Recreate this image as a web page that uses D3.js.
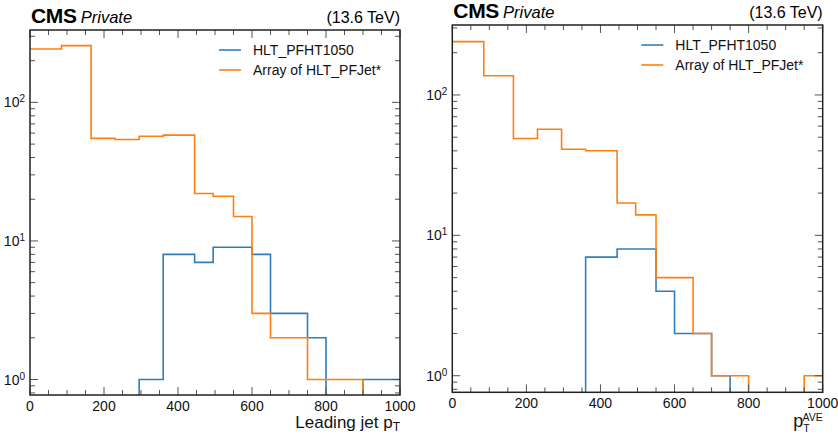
<!DOCTYPE html>
<html>
<head>
<meta charset="utf-8">
<script src="https://cdn.jsdelivr.net/npm/d3@7"></script>
<style>
  html, body { margin: 0; padding: 0; background: #fff; }
  svg { display: block; font-family: "Liberation Sans", Arial, Helvetica, sans-serif; }
</style>
</head>
<body>
<svg id="chart" width="838" height="439"></svg>
<script>
// ---- data ----
const binEdges = [0, 85, 165, 230, 295, 360, 445, 495, 550, 600, 650, 700, 750, 800, 850, 900, 950, 1000];
const seriesNames = ["HLT_PFHT1050", "Array of HLT_PFJet*"];
// Left panel: leading jet pT
const leadingPFHT1050 = [0, 0, 0, 0, 1, 8, 7, 9, 9, 8, 3, 3, 2, 0, 0, 1, 1];
const leadingPFJet    = [243, 257, 55, 54, 57, 58, 22, 21, 15, 3, 2, 2, 1, 1, 1, 0, 0];
// Right panel: pT AVE
const avePFHT1050 = [0, 0, 0, 0, 0, 7, 8, 8, 4, 2, 2, 1, 0, 0, 0, 0, 0];
const avePFJet    = [240, 137, 49, 57, 41, 40, 17, 14, 5, 5, 2, 1, 1, 0, 0, 0, 1];
const xTicks = [0, 200, 400, 600, 800, 1000];
const yTickExps = [0, 1, 2];

const colors = ["#2f7ebc", "#ff7f0e"];
const svg = d3.select("#chart");

const panels = [
  { x0: 30, x1: 400, y0: 30, y1: 395, yMin: 0.773, yMax: 333,
    series: [leadingPFHT1050, leadingPFJet], xlabel: "lead" },
  { x0: 452.3, x1: 822.7, y0: 25, y1: 392.3, yMin: 0.762, yMax: 315,
    series: [avePFHT1050, avePFJet], xlabel: "ave" }
];

panels.forEach((p, pi) => {
  const g = svg.append("g");
  const x = d3.scaleLinear().domain([0, 1000]).range([p.x0, p.x1]);
  const y = d3.scaleLog().domain([p.yMin, p.yMax]).range([p.y1, p.y0]);

  const clipId = "clip" + pi;
  svg.append("defs").append("clipPath").attr("id", clipId)
    .append("rect").attr("x", p.x0).attr("y", p.y0)
    .attr("width", p.x1 - p.x0).attr("height", p.y1 - p.y0);

  // histograms as steps
  const yv = v => v > 0 ? y(v) : p.y1 + 20;
  p.series.forEach((vals, si) => {
    const pts = [];
    vals.forEach((v, i) => {
      pts.push([x(binEdges[i]), yv(v)]);
      pts.push([x(binEdges[i + 1]), yv(v)]);
    });
    g.append("path")
      .attr("clip-path", `url(#${clipId})`)
      .attr("d", d3.line()(pts))
      .attr("fill", "none")
      .attr("stroke", colors[si])
      .attr("stroke-width", 1.6)
      .attr("stroke-linejoin", "miter");
  });

  // ticks (inward, all four sides)
  const tickG = g.append("g").attr("stroke", "#555").attr("stroke-width", 1);
  d3.range(0, 1001, 50).forEach(t => {
    const major = t % 200 === 0;
    const len = major ? 8 : 5;
    const xx = x(t);
    tickG.append("line").attr("x1", xx).attr("x2", xx).attr("y1", p.y1).attr("y2", p.y1 - len);
    tickG.append("line").attr("x1", xx).attr("x2", xx).attr("y1", p.y0).attr("y2", p.y0 + len);
  });
  const yTicksAll = [];
  for (let e = -1; e <= 3; e++) {
    for (let m = 1; m <= 9; m++) {
      const v = m * Math.pow(10, e);
      if (v >= p.yMin && v <= p.yMax) yTicksAll.push({ v, major: m === 1 });
    }
  }
  yTicksAll.forEach(t => {
    const len = t.major ? 8 : 5;
    const yy = y(t.v);
    tickG.append("line").attr("x1", p.x0).attr("x2", p.x0 + len).attr("y1", yy).attr("y2", yy);
    tickG.append("line").attr("x1", p.x1).attr("x2", p.x1 - len).attr("y1", yy).attr("y2", yy);
  });

  // frame
  g.append("rect").attr("x", p.x0).attr("y", p.y0)
    .attr("width", p.x1 - p.x0).attr("height", p.y1 - p.y0)
    .attr("fill", "none").attr("stroke", "#222").attr("stroke-width", 1.5);

  // x tick labels
  xTicks.forEach(t => {
    g.append("text").attr("x", x(t)).attr("y", p.y1 + 16)
      .attr("text-anchor", "middle").attr("font-size", 14).attr("fill", "#111")
      .text(t);
  });
  // y tick labels
  yTickExps.forEach(e => {
    const t = g.append("text").attr("x", p.x0 - 5).attr("y", y(Math.pow(10, e)) + 5)
      .attr("text-anchor", "end").attr("font-size", 14).attr("fill", "#111");
    t.append("tspan").text("10");
    t.append("tspan").attr("dy", -5).attr("font-size", 10).text(e);
  });

  // x label
  if (p.xlabel === "lead") {
    const t = g.append("text").attr("x", p.x1).attr("y", p.y1 + 33)
      .attr("text-anchor", "end").attr("font-size", 17).attr("fill", "#111");
    t.append("tspan").text("Leading jet p");
    t.append("tspan").attr("dy", 3).attr("font-size", 12).text("T");
  } else {
    const t = g.append("text").attr("x", p.x1).attr("y", p.y1 + 35)
      .attr("text-anchor", "end").attr("font-size", 18).attr("fill", "#111");
    t.append("tspan").text("p");
    t.append("tspan").attr("dy", 5).attr("font-size", 10.5).text("T");
    t.append("tspan").attr("dx", -6.5).attr("dy", -11.5).attr("font-size", 10.5).text("AVE");
  }

  // header
  const h = g.append("text").attr("x", p.x0 + 1).attr("y", p.y0 - 7.5).attr("fill", "#000");
  h.append("tspan").attr("font-size", 21).attr("font-weight", "bold").attr("letter-spacing", -0.3).text("CMS");
  h.append("tspan").attr("dx", 4).attr("font-size", 16.5).attr("font-style", "italic").text("Private");
  g.append("text").attr("x", p.x1).attr("y", p.y0 - 7.5)
    .attr("text-anchor", "end").attr("font-size", 16).attr("fill", "#000").text("(13.6 TeV)");

  // legend
  seriesNames.forEach((name, si) => {
    const ly = p.y0 + 20 + si * 20;
    g.append("line").attr("x1", p.x0 + 189).attr("x2", p.x0 + 211)
      .attr("y1", ly).attr("y2", ly).attr("stroke", colors[si]).attr("stroke-width", 1.6);
    g.append("text").attr("x", p.x0 + 223).attr("y", ly + 5)
      .attr("font-size", 14).attr("fill", "#111").text(name);
  });
});
</script>
</body>
</html>
